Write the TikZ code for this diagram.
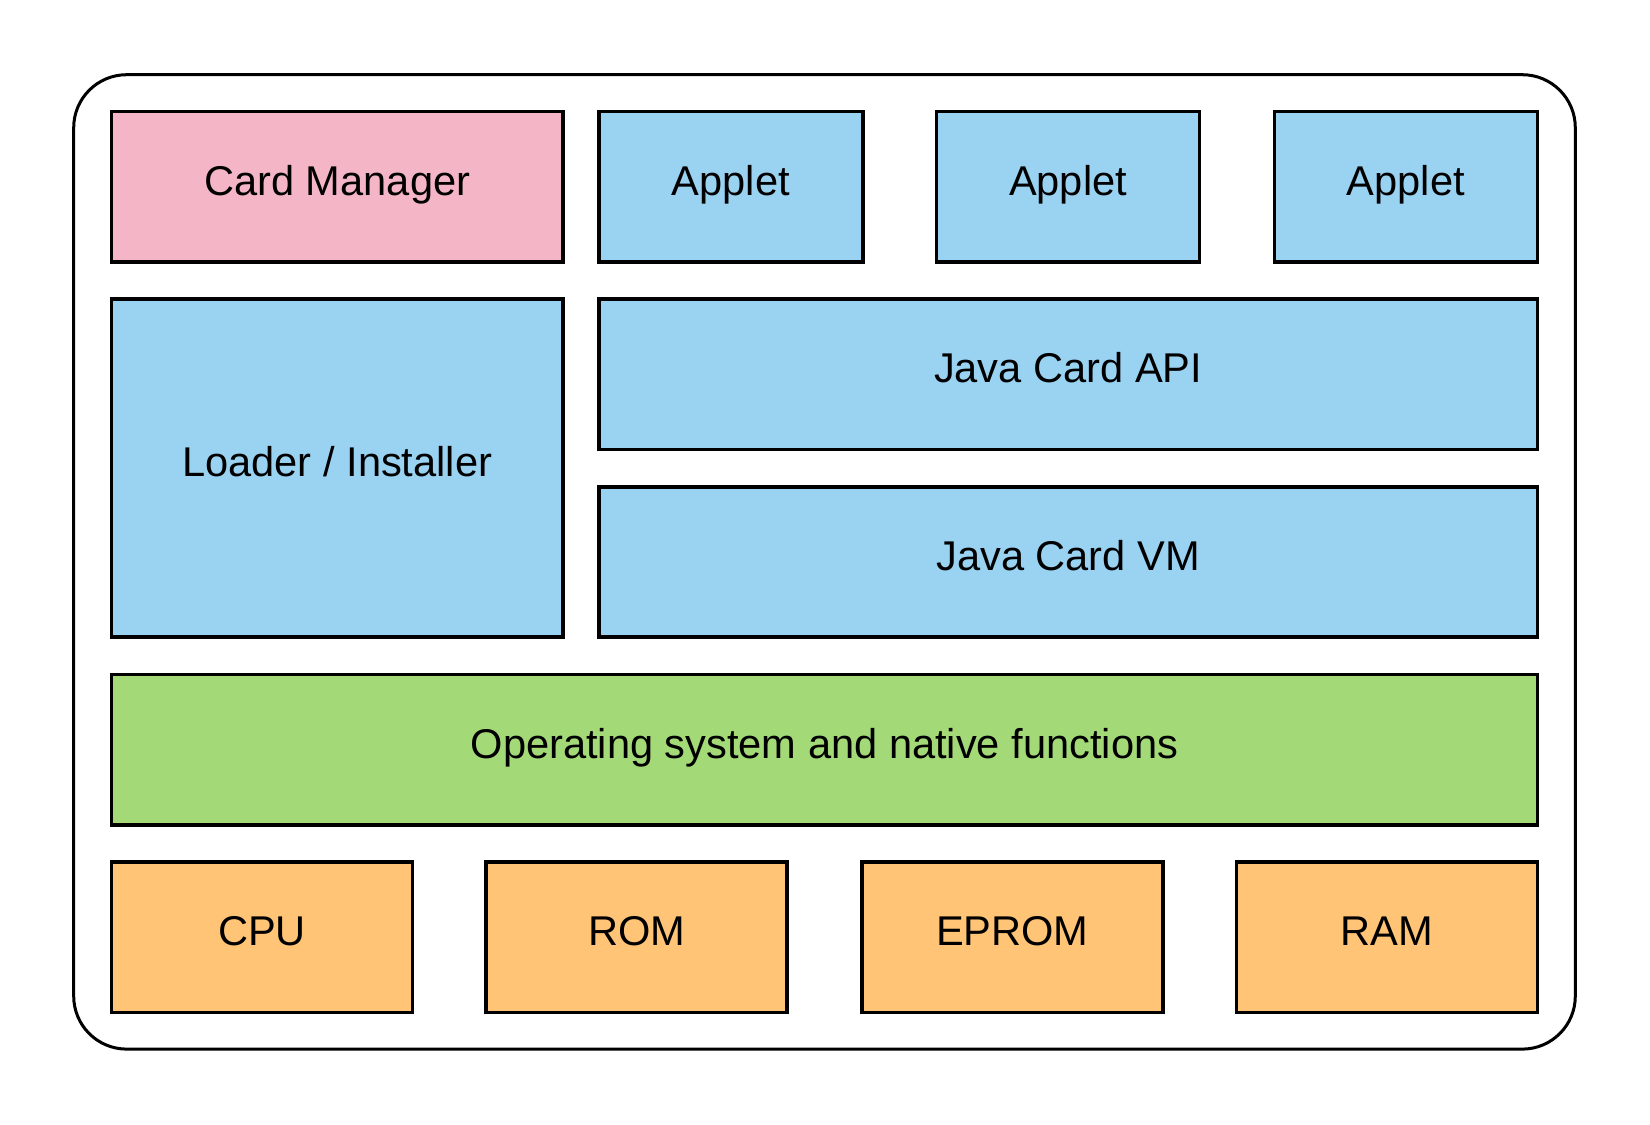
\documentclass[tikz,border=0pt]{standalone}
\usepackage{fontspec}
\setmainfont{Liberation Sans}
\definecolor{cmpink}{HTML}{F4B6C7}
\definecolor{cmblue}{HTML}{9AD2F2}
\definecolor{cmgreen}{HTML}{A3D977}
\definecolor{cmorange}{HTML}{FFC476}
\begin{document}
\begin{tikzpicture}[x=1pt,y=-1pt,
  box/.style={draw=black, line width=3.6pt, rectangle, inner sep=0pt,
    font=\fontsize{41.6}{49}\selectfont, text height=30pt, text depth=13pt},
  outerbox/.style={draw=black, line width=3pt, rectangle, rounded corners=53pt, inner sep=0pt},
  row/.style={minimum height=150.5pt}]
\useasboundingbox (0,0) rectangle (1650,1125);
\node[outerbox, minimum width=1501.6pt, minimum height=974.4pt] (card) at (824.5,561.9) {};
% row 1
\node[box, row, fill=cmpink, minimum width=451.5pt] (cm) at (337.25,186.75) {Card Manager};
\node[box, row, fill=cmblue, minimum width=264.1pt] (a1) at (730.85,186.75) {Applet};
\node[box, row, fill=cmblue, minimum width=263.1pt] (a2) at (1068.05,186.75) {Applet};
\node[box, row, fill=cmblue, minimum width=263.1pt] (a3) at (1405.85,186.75) {Applet};
% rows 2-3
\node[box, fill=cmblue, minimum width=451.5pt, minimum height=338.1pt] (loader) at (337.25,468.15) {Loader / Installer};
\node[box, row, fill=cmblue, minimum width=938.6pt] (api) at (1068.1,374.35) {Java Card API};
\node[box, row, fill=cmblue, minimum width=938.6pt] (vm) at (1068.1,561.95) {Java Card VM};
% row 4
\node[box, row, fill=cmgreen, minimum width=1425.9pt] (os) at (824.45,749.55) {Operating system and native functions};
% row 5
\node[box, row, fill=cmorange, minimum width=301pt] (cpu) at (262,937.15) {CPU};
\node[box, row, fill=cmorange, minimum width=301pt] (rom) at (636.65,937.15) {ROM};
\node[box, row, fill=cmorange, minimum width=301pt] (eprom) at (1012.3,937.15) {EPROM};
\node[box, row, fill=cmorange, minimum width=301pt] (ram) at (1386.95,937.15) {RAM};
\end{tikzpicture}
\end{document}
